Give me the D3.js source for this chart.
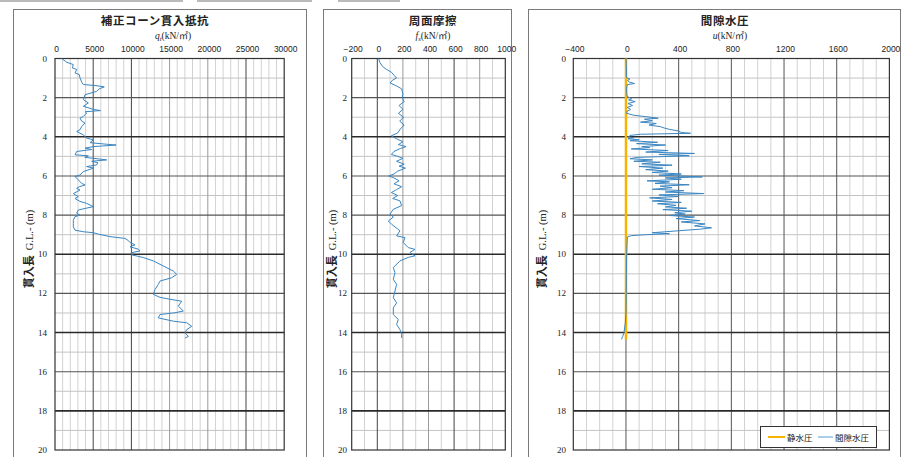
<!DOCTYPE html>
<html><head><meta charset="utf-8">
<script src="https://cdn.jsdelivr.net/npm/d3@7"></script>
<style>body{margin:0;background:#fff;} svg{display:block}</style>
</head><body><svg id="c" width="902" height="457"></svg>
<script>
// ---------- data ----------
const depthTicks = [0,2,4,6,8,10,12,14,16,18,20];
const qtTicks = [0,5000,10000,15000,20000,25000,30000];
const fsTicks = [-200,0,200,400,600,800,1000];
const uTicks = [-400,0,400,800,1200,1600,2000];
const legendLabels = ['静水圧','間隙水圧'];

// [depth (m), qt (kN/m2)]
const qtData = [[0,870],[0.19,1530],[0.31,2400],[0.48,2270],[0.56,2840],[0.74,2620],[0.82,3180],[0.99,3270],[1.2,3490],[1.33,3710],[1.38,5240],[1.45,6450],[1.55,5800],[1.68,5450],[1.85,3930],[2.1,3710],[2.27,4360],[2.44,3710],[2.6,5020],[2.66,5950],[2.72,3930],[2.79,4140],[2.96,3710],[3.04,3270],[3.2,3490],[3.3,3930],[3.47,3490],[3.64,3270],[3.73,2840],[3.9,3710],[4.07,4140],[4.15,5020],[4.3,4580],[4.38,6760],[4.42,8000],[4.47,6200],[4.5,5020],[4.58,3930],[4.65,4800],[4.75,2840],[4.92,2620],[4.97,4360],[5.05,3900],[5.12,5500],[5.18,6760],[5.25,4800],[5.32,5600],[5.44,5450],[5.52,4140],[5.6,5020],[5.78,3710],[5.95,3270],[6.03,2620],[6.2,3050],[6.38,3490],[6.46,3930],[6.55,3200],[6.63,2840],[6.72,3270],[6.9,2400],[7.06,3050],[7.15,2620],[7.3,3270],[7.4,4140],[7.57,5020],[7.66,3930],[7.74,3050],[7.9,2840],[8.0,3270],[8.08,2620],[8.26,2400],[8.43,2400],[8.6,2400],[8.77,2620],[8.85,3710],[8.9,5020],[8.97,5670],[9.1,7200],[9.19,9160],[9.3,9600],[9.4,9820],[9.52,10470],[9.62,9820],[9.74,10910],[9.83,11130],[9.92,10040],[10.03,10040],[10.1,10800],[10.17,11560],[10.34,12870],[10.6,14180],[10.86,15490],[11.03,15930],[11.2,15270],[11.37,13740],[11.54,13520],[11.8,13090],[12.05,12870],[12.2,13740],[12.3,15050],[12.4,16580],[12.65,16140],[12.9,16800],[12.99,15700],[13.08,13740],[13.25,13520],[13.42,15490],[13.5,17240],[13.68,17890],[13.85,17240],[14.02,17020],[14.2,17460],[14.28,17020]];

// [depth (m), fs (kN/m2)]
const fsData = [[0,10],[0.2,20],[0.4,40],[0.55,70],[0.7,110],[0.85,130],[1.0,150],[1.1,120],[1.25,100],[1.4,150],[1.55,190],[1.8,200],[2.0,195],[2.2,210],[2.4,170],[2.6,200],[2.8,165],[3.0,205],[3.2,175],[3.4,210],[3.6,180],[3.8,160],[3.95,110],[4.1,150],[4.25,200],[4.4,165],[4.5,225],[4.6,180],[4.75,130],[4.9,110],[5.0,160],[5.1,200],[5.25,150],[5.4,210],[5.5,170],[5.6,220],[5.75,160],[5.9,130],[6.0,90],[6.1,130],[6.25,170],[6.4,130],[6.55,190],[6.7,150],[6.85,110],[7.0,160],[7.15,120],[7.27,177],[7.52,190],[7.7,125],[7.95,99],[8.1,125],[8.3,86],[8.47,112],[8.8,177],[9.06,151],[9.15,216],[9.4,203],[9.66,242],[9.75,294],[9.91,255],[10.08,294],[10.16,242],[10.34,177],[10.68,125],[10.94,138],[11.28,125],[11.54,151],[11.88,138],[12.22,125],[12.48,151],[12.74,125],[13.08,125],[13.33,164],[13.59,151],[13.85,177],[14.1,190],[14.27,190]];

// [depth (m), u (kN/m2)]
const uData = [[0,0],[0.3,2],[0.6,4],[0.9,3],[1.0,8],[1.05,30],[1.12,12],[1.2,25],[1.28,65],[1.33,10],[1.5,5],[1.8,6],[1.95,10],[2.05,45],[2.12,20],[2.2,70],[2.3,15],[2.4,50],[2.5,10],[2.6,35],[2.7,8],[2.8,5],[2.9,60],[2.97,150],[3.05,245],[3.1,140],[3.18,200],[3.25,110],[3.32,230],[3.4,175],[3.48,260],[3.55,290],[3.62,330],[3.7,395],[3.78,420],[3.82,490],[3.87,110],[3.93,30],[4.0,20],[4.05,60],[4.1,15],[4.15,100],[4.2,30],[4.28,240],[4.35,80],[4.42,300],[4.5,120],[4.55,180],[4.62,40],[4.7,320],[4.78,150],[4.85,520],[4.9,250],[4.97,480],[5.05,90],[5.12,30],[5.18,200],[5.25,60],[5.3,260],[5.38,120],[5.45,350],[5.52,100],[5.6,280],[5.68,150],[5.75,320],[5.82,200],[5.9,420],[5.96,250],[6.05,580],[6.1,300],[6.17,420],[6.25,160],[6.3,330],[6.38,220],[6.45,480],[6.52,260],[6.6,350],[6.68,200],[6.75,440],[6.82,300],[6.9,590],[6.97,250],[7.05,400],[7.12,180],[7.2,350],[7.28,200],[7.35,420],[7.42,240],[7.5,380],[7.58,300],[7.65,460],[7.72,280],[7.8,500],[7.88,370],[7.95,450],[8.02,330],[8.1,520],[8.18,380],[8.28,560],[8.35,420],[8.45,600],[8.55,520],[8.65,650],[8.72,560],[8.8,400],[8.85,300],[8.9,200],[8.95,330],[9.0,150],[9.05,40],[9.12,10],[9.5,8],[10,5],[11,3],[12,2],[13,0],[13.5,-5],[14,-15],[14.2,-25],[14.35,-35]];

// [depth (m), hydrostatic (kN/m2)]
const hydroData = [[0,0],[14.35,0]];

// ---------- drawing ----------
const svg = d3.select('#c');
const y = d3.scaleLinear().domain([0,20]).range([58.5,450]);
const BLUE = '#3a86c2', ORANGE = '#f6b400';

// faint lines at the very top of the scan
[[0,183],[197,312],[338,400]].forEach(s=>{
  svg.append('line').attr('x1',s[0]).attr('x2',s[1]).attr('y1',1).attr('y2',1)
    .attr('stroke','#777').attr('stroke-width',1.2);
});

const panels = [
  {title:'補正コーン貫入抵抗', sym:'q', sub:'t', box:[13,9,306], range:[55,284.2], domain:[0,30000],
   major:5000, minor:1000, ticks:qtTicks, titleX:155, subX:173, ylabX:33, tickX:47,
   majorColor:v=> (v===15000||v===20000)?'#9a9a9a':'#444',
   series:[{data:qtData,color:BLUE,w:1}]},
  {title:'周面摩擦', sym:'f', sub:'s', box:[323,9,511], range:[351.7,505.3], domain:[-200,1000],
   major:200, minor:100, ticks:fsTicks, titleX:433, subX:433, ylabX:336, tickX:347,
   majorColor:v=> (v===0||v===600)?'#444':'#9a9a9a',
   series:[{data:fsData,color:BLUE,w:1}]},
  {title:'間隙水圧', sym:'u', sub:'', box:[528,9,900], range:[573.3,889.4], domain:[-400,2000],
   major:400, minor:100, ticks:uTicks, titleX:725, subX:730, ylabX:546, tickX:566,
   majorColor:v=> '#555',
   series:[{data:hydroData,color:ORANGE,w:2.5},{data:uData,color:BLUE,w:1}]}
];

panels.forEach(p=>{
  const g = svg.append('g');
  // panel frame
  g.append('rect').attr('x',p.box[0]+0.5).attr('y',p.box[1]+0.5)
    .attr('width',p.box[2]-p.box[0]).attr('height',470)
    .attr('fill','none').attr('stroke','#7a7a7a').attr('stroke-width',1);
  const x = d3.scaleLinear().domain(p.domain).range(p.range);
  const [x0,x1] = p.range, [y0,y1] = y.range();

  // minor vertical grid
  const minorV = d3.range(p.domain[0], p.domain[1]+1e-9, p.minor).filter(v=> Math.abs(v % p.major) > 1e-9);
  g.selectAll('.mv').data(minorV).enter().append('line')
    .attr('x1',d=>x(d)).attr('x2',d=>x(d)).attr('y1',y0).attr('y2',y1)
    .attr('stroke','#d2d2d2').attr('stroke-width',1);
  // minor horizontal grid
  const minorH = d3.range(1,20,2);
  g.selectAll('.mh').data(minorH).enter().append('line')
    .attr('x1',x0).attr('x2',x1).attr('y1',d=>y(d)).attr('y2',d=>y(d))
    .attr('stroke','#c4c4c4').attr('stroke-width',1);
  // major vertical grid
  const majorV = p.ticks.slice(1,-1);
  g.selectAll('.Mv').data(majorV).enter().append('line')
    .attr('x1',d=>x(d)).attr('x2',d=>x(d)).attr('y1',y0).attr('y2',y1)
    .attr('stroke',d=>p.majorColor(d)).attr('stroke-width',1);
  // major horizontal grid
  g.selectAll('.Mh').data(depthTicks.slice(1,-1)).enter().append('line')
    .attr('x1',x0).attr('x2',x1).attr('y1',d=>y(d)).attr('y2',d=>y(d))
    .attr('stroke',d=>[4,10,14,18].includes(d)?'#2a2a2a':'#555')
    .attr('stroke-width',d=>[4,10,14,18].includes(d)?1.6:1.1);
  // plot border
  g.append('rect').attr('x',x0).attr('y',y0).attr('width',x1-x0).attr('height',y1-y0)
    .attr('fill','none').attr('stroke','#333').attr('stroke-width',1.2);

  // top axis labels
  g.selectAll('.xt').data(p.ticks).enter().append('text')
    .attr('x',d=>x(d)+1.5).attr('y',52).attr('text-anchor','middle')
    .attr('font-family','Liberation Sans, Arial, sans-serif').attr('font-size',8.5).attr('fill','#222')
    .text(d=> d<0 ? '\u2212'+Math.abs(d) : d);
  // left axis labels
  g.selectAll('.yt').data(depthTicks).enter().append('text')
    .attr('x',p.tickX).attr('y',d=>y(d)+3).attr('text-anchor','end')
    .attr('font-family','Liberation Serif, serif').attr('font-size',9).attr('fill','#222')
    .text(d=>d);

  // title
  g.append('text').attr('x',p.titleX).attr('y',25).attr('text-anchor','middle')
    .attr('font-family','Noto Sans CJK JP, sans-serif').attr('font-weight','bold')
    .attr('font-size',11.5).attr('letter-spacing',0.6).attr('fill','#222').text(p.title);
  // unit subtitle
  const st = g.append('text').attr('x',p.subX).attr('y',39).attr('text-anchor','middle')
    .attr('font-family','Liberation Serif, serif').attr('font-size',9.5).attr('fill','#222');
  st.append('tspan').attr('font-style','italic').text(p.sym);
  if (p.sub) st.append('tspan').attr('font-size',6.5).attr('dy',2).attr('font-style','italic').text(p.sub);
  st.append('tspan').attr('dy',p.sub?-2:0).text('(kN/');
  st.append('tspan').attr('font-family','Noto Sans CJK JP, sans-serif').attr('font-size',9).text('㎡');
  st.append('tspan').text(')');

  // y axis title
  const yl = g.append('text').attr('transform',`translate(${p.ylabX},249) rotate(-90)`)
    .attr('text-anchor','middle').attr('fill','#222');
  yl.append('tspan').attr('font-family','Noto Sans CJK JP, sans-serif').attr('font-weight','bold')
    .attr('font-size',11).text('貫入長');
  yl.append('tspan').attr('font-family','Liberation Serif, serif').attr('font-size',10.5)
    .attr('dx',5).text('G.L.- (m)');

  // series
  const line = d3.line().x(d=>x(d[1])).y(d=>y(d[0]));
  p.series.forEach(s=>{
    g.append('path').datum(s.data).attr('d',line).attr('fill','none')
      .attr('stroke',s.color).attr('stroke-width',s.w).attr('stroke-linejoin','round');
  });
});

// legend (pore pressure panel)
const lg = svg.append('g');
lg.append('rect').attr('x',760.5).attr('y',426.5).attr('width',116).attr('height',21)
  .attr('fill','#fff').attr('stroke','#333').attr('stroke-width',1);
const legItems = [{c:ORANGE,w:2,x1:768,x2:785,tx:787,label:legendLabels[0]},
                  {c:'#8fbfe0',w:1.5,x1:818,x2:833,tx:835,label:legendLabels[1]}];
legItems.forEach(it=>{
  lg.append('line').attr('x1',it.x1).attr('x2',it.x2).attr('y1',437).attr('y2',437)
    .attr('stroke',it.c).attr('stroke-width',it.w);
  lg.append('text').attr('x',it.tx).attr('y',440.5).attr('font-family','Noto Sans CJK JP, sans-serif')
    .attr('font-size',8.5).attr('fill','#222').text(it.label);
});
</script></body></html>
